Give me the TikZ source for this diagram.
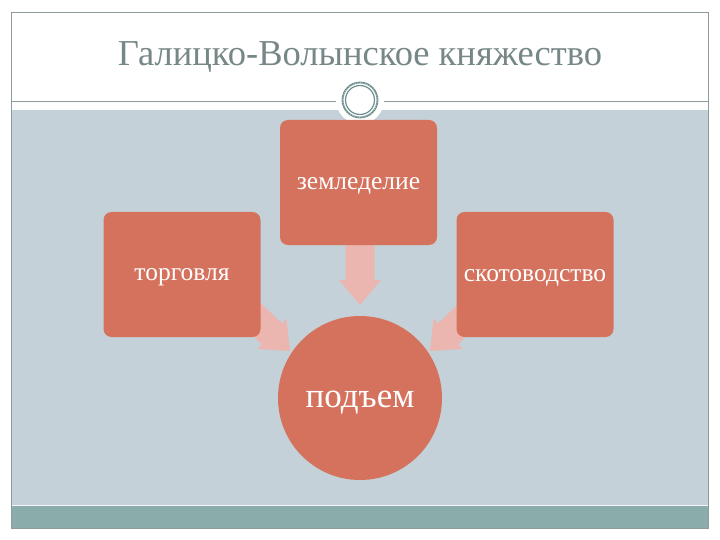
\documentclass[tikz,border=0pt]{standalone}
\usepackage{fontspec}
\setmainfont{Liberation Serif}
\usetikzlibrary{calc}
\definecolor{frameline}{HTML}{8C9B9B}
\definecolor{panelbg}{HTML}{C5D1D8}
\definecolor{bandteal}{HTML}{8AACAA}
\definecolor{boxfill}{HTML}{D5725D}
\definecolor{arrowfill}{HTML}{EAB6AF}
\definecolor{titlegray}{HTML}{778787}
\definecolor{ringcol}{HTML}{6F8F8F}
\newcommand{\lowtext}[2]{\raisebox{0pt}[\dimexpr\height+#1\relax][\depth]{#2}}
\tikzset{
  boxnode/.style={draw=none, fill=boxfill, rounded corners=8pt, minimum width=157pt, minimum height=125pt, inner sep=0pt, text=white, font=\fontsize{25.5}{30}\selectfont},
  hubnode/.style={circle, fill=boxfill, minimum size=164pt, inner sep=0pt, text=white, font=\fontsize{35}{40}\selectfont},
  fatarrow/.style={fill=arrowfill, draw=none}
}
\begin{document}
\begin{tikzpicture}[x=1pt,y=-1pt]
\useasboundingbox (0,0) rectangle (720,540);
\fill[white] (0,0) rectangle (720,540);
% panel background
\fill[panelbg] (11,110) rectangle (708,505);
\fill[bandteal] (11,506) rectangle (708,528);
\draw[white!80!panelbg, line width=1pt] (11,505.5) -- (708,505.5);
% frame
\draw[frameline, line width=0.8pt] (11,12) -- (708,12);
\draw[frameline, line width=0.6pt] (11,12) -- (11,528) -- (708,528) -- (708,12);
\draw[frameline, line width=0.8pt] (11,101) -- (708,101);
% emblem
\fill[white] (360,100) circle (24);
\draw[ringcol, line width=1.8pt] (360,100) circle (17.5);
\draw[ringcol, line width=1.2pt] (360,100) circle (14.5);
\draw[white, line width=0.5pt, dotted] (360,100) circle (17.5);
% title
\node[text=titlegray, font=\fontsize{36.5}{42}\selectfont] (title) at (360,57) {Галицко-Волынское княжество};
% arrows (behind shapes)
\coordinate (a1s) at (360,240);
\coordinate (a1e) at (360,305);
\coordinate (a2s) at (230,294);
\coordinate (a2e) at (290,351);
\coordinate (a3s) at (490,294);
\coordinate (a3e) at (430,351);
\foreach \s/\e in {a1s/a1e,a2s/a2e,a3s/a3e}{
  \path let \p1=(\s), \p2=(\e), \n1={atan2(\y2-\y1,\x2-\x1)}, \n2={veclen(\x2-\x1,\y2-\y1)} in
    [fatarrow] (\p1) -- ++(\n1+90:14.5pt) -- ++(\n1:\n2-25pt) -- ++(\n1+90:6.5pt) -- (\p2)
    -- ($(\p1)+(\n1:\n2-25pt)+(\n1-90:21pt)$) -- ++(\n1+90:6.5pt) -- ($(\p1)+(\n1-90:14.5pt)$) -- cycle;
}
% nodes
\node[boxnode] (zem) at (358.5,182.5) {\lowtext{6pt}{земледелие}};
\node[boxnode] (tor) at (182,274.5) {\lowtext{6pt}{торговля}};
\node[boxnode] (sko) at (535,274.5) {\lowtext{6pt}{скотоводство}};
\node[hubnode] (hub) at (360,398) {\lowtext{10pt}{подъем}};
\end{tikzpicture}
\end{document}
